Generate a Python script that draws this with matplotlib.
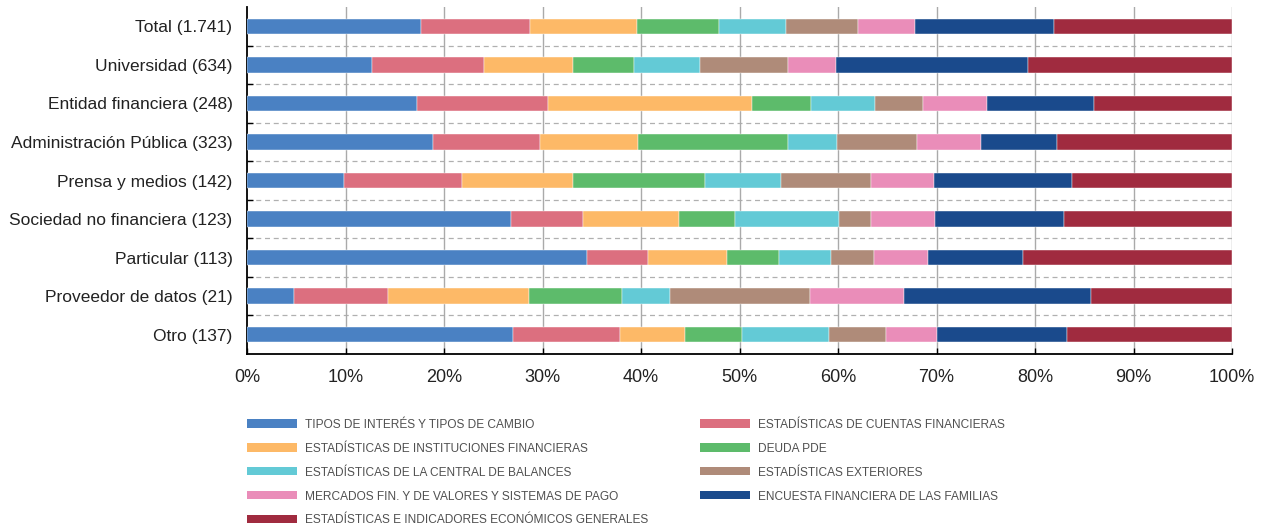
import matplotlib.pyplot as plt
from matplotlib.patches import Patch
import numpy as np

categorias = ["Total (1.741)", "Universidad (634)", "Entidad financiera (248)",
              "Administración Pública (323)", "Prensa y medios (142)",
              "Sociedad no financiera (123)", "Particular (113)",
              "Proveedor de datos (21)", "Otro (137)"]

series = ["TIPOS DE INTERÉS Y TIPOS DE CAMBIO",
          "ESTADÍSTICAS DE CUENTAS FINANCIERAS",
          "ESTADÍSTICAS DE INSTITUCIONES FINANCIERAS",
          "DEUDA PDE",
          "ESTADÍSTICAS DE LA CENTRAL DE BALANCES",
          "ESTADÍSTICAS EXTERIORES",
          "MERCADOS FIN. Y DE VALORES Y SISTEMAS DE PAGO",
          "ENCUESTA FINANCIERA DE LAS FAMILIAS",
          "ESTADÍSTICAS E INDICADORES ECONÓMICOS GENERALES"]

colores = ["#4a81c3", "#dc6f7f", "#fdb967", "#5dbb6b", "#63cad6",
           "#af8b79", "#ea8db9", "#1a4a8c", "#a02b3f"]

# porcentaje de cada serie por categoria (filas = categorias)
valores = [
    [17.7, 11.0, 10.9, 8.3, 6.8, 7.3, 5.8, 14.1, 18.1],   # Total
    [12.7, 11.4, 9.0, 6.2, 6.7, 8.9, 4.9, 19.5, 20.7],    # Universidad
    [17.3, 13.3, 20.7, 6.0, 6.5, 4.8, 6.5, 10.9, 14.0],   # Entidad financiera
    [18.9, 10.8, 10.0, 15.2, 5.0, 8.1, 6.5, 7.7, 17.8],   # Administracion Publica
    [9.8, 12.0, 11.3, 13.4, 7.7, 9.1, 6.4, 14.1, 16.2],   # Prensa y medios
    [26.8, 7.3, 9.8, 5.6, 10.6, 3.2, 6.5, 13.1, 17.1],    # Sociedad no financiera
    [34.5, 6.2, 8.0, 5.3, 5.3, 4.4, 5.4, 9.7, 21.2],      # Particular
    [4.8, 9.5, 14.3, 9.5, 4.8, 14.3, 9.5, 19.0, 14.3],    # Proveedor de datos
    [27.0, 10.9, 6.6, 5.8, 8.8, 5.8, 5.1, 13.2, 16.8],    # Otro
]
xticks = [0, 10, 20, 30, 40, 50, 60, 70, 80, 90, 100]

plt.rcParams['font.family'] = ['Liberation Sans', 'DejaVu Sans']

fig = plt.figure(figsize=(12.7, 5.28), dpi=100)
ax = fig.add_axes([0.1945, 0.3295, 0.7756, 0.657])

datos = np.array(valores)
y = np.arange(len(categorias))
izq = np.zeros(len(categorias))
for i in range(len(series)):
    ax.barh(y, datos[:, i], left=izq, height=0.4, color=colores[i],
            edgecolor='white', linewidth=0.3, zorder=3)
    izq += datos[:, i]

ax.set_xlim(0, 100)
ax.set_ylim(len(categorias) - 0.5, -0.5)
ax.set_xticks(xticks)
ax.set_xticklabels([str(v) + "%" for v in xticks], fontsize=13, color='#222222')
ax.set_yticks(y)
ax.set_yticklabels(categorias, fontsize=12.5, color='#222222')
ax.tick_params(axis='y', length=0, pad=10.5)
ax.tick_params(axis='x', direction='in', length=4, width=1, pad=11)

# ticks menores en los limites de categoria
ax.set_yticks(np.arange(0.5, len(categorias) - 0.5, 1), minor=True)
ax.tick_params(axis='y', which='minor', direction='in', length=4, width=1)

for b in np.arange(0.5, len(categorias) - 0.5, 1):
    ax.axhline(b, color='#b0b0b0', lw=0.9, linestyle=(0, (4, 3)), zorder=1)
for v in xticks[1:]:
    ax.axvline(v, color='#aaaaaa', lw=1, zorder=1)

ax.spines['top'].set_visible(False)
ax.spines['right'].set_visible(False)
ax.spines['left'].set_linewidth(1.3)
ax.spines['bottom'].set_linewidth(1.3)

manejadores = [Patch(facecolor=c, edgecolor='none') for c in colores]
izquierda = [0, 2, 4, 6, 8]
derecha = [1, 3, 5, 7]
fuente_ley = {'family': ['Liberation Sans'], 'size': 8.6}
for idx, xpos in [(izquierda, 0.1945), (derecha, 0.551)]:
    ley = fig.legend([manejadores[k] for k in idx], [series[k] for k in idx],
                     loc='upper left', bbox_to_anchor=(xpos, 0.207), frameon=False,
                     prop=fuente_ley, handlelength=4.2, handleheight=0.67,
                     handletextpad=0.67, labelspacing=1.0, borderpad=0,
                     borderaxespad=0)
    for t in ley.get_texts():
        t.set_color('#505050')

fig.savefig("out.png", dpi=100)
